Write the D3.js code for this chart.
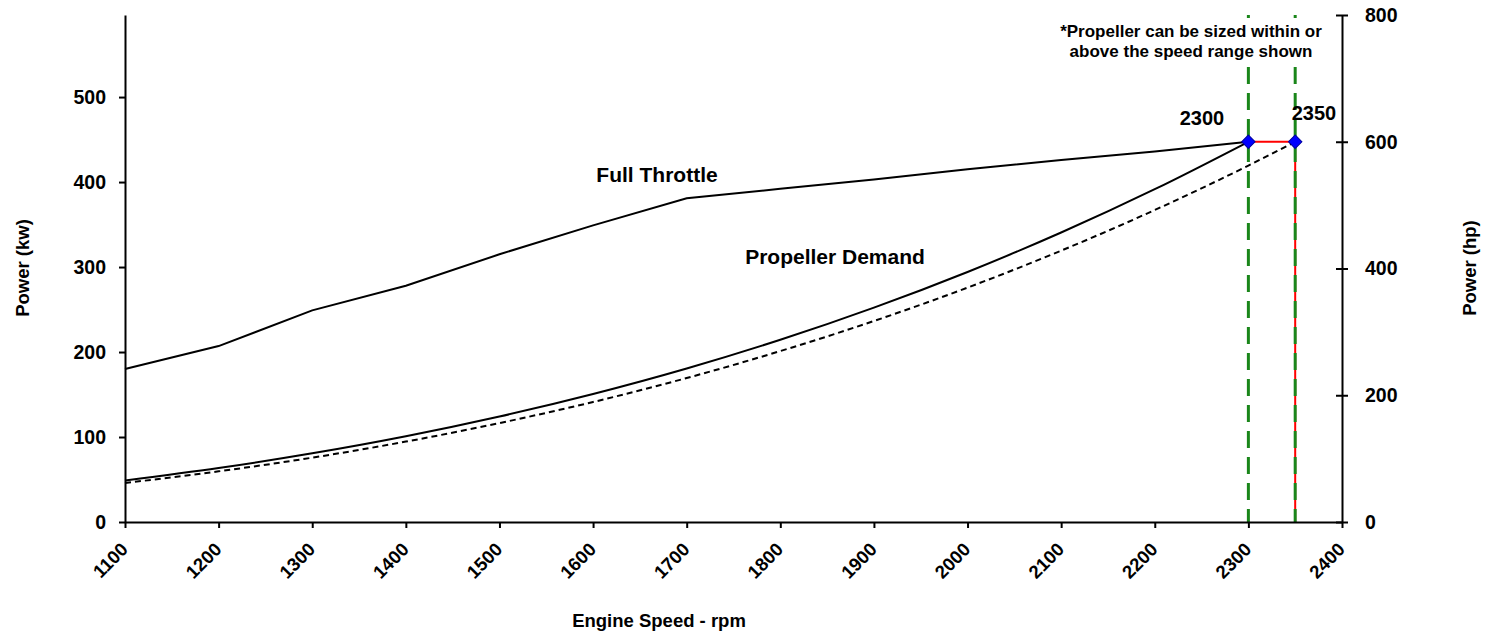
<!DOCTYPE html>
<html><head><meta charset="utf-8">
<script src="https://cdn.jsdelivr.net/npm/d3@7"></script>
<style>body{margin:0;background:#fff}text{font-family:"Liberation Sans",Arial,sans-serif;font-weight:bold}</style>
</head><body><svg id="c" width="1487" height="634"></svg>
<script>
const rpm = [1100,1200,1300,1400,1500,1600,1700,1800,1900,2000,2100,2200,2300];
const fullThrottle = [180,207,249,278,315,349,381,392,403,415,426,436,447.4];
const propDemand = [48.9,63.5,80.8,100.9,124.1,150.6,180.6,214.4,252.2,294.2,340.6,391.6,447.4];
const rpmDashed = [1100,1200,1300,1400,1500,1600,1700,1800,1900,2000,2100,2200,2300,2350];
const propDashed = [45.9,59.6,75.7,94.6,116.4,141.2,169.4,201.1,236.5,275.8,319.3,367.1,419.4,447.4];
const markerRpm = [2300,2350];
const markerKw = [447.4,447.4];
const xTicks = [1100,1200,1300,1400,1500,1600,1700,1800,1900,2000,2100,2200,2300,2400];
const kwTicks = [0,100,200,300,400,500];
const hpTicks = [0,200,400,600,800];

const svg = d3.select("#c");
const L=125,R=1342,T=15,B=522;
const x = d3.scaleLinear().domain([1100,2400]).range([L,R]);
const yk = d3.scaleLinear().domain([0,800*0.74570]).range([B,T]);
const yh = d3.scaleLinear().domain([0,800]).range([B,T]);

// red lines
svg.append("path").attr("d",d3.line()([[x(markerRpm[0]),yk(markerKw[0])],[x(markerRpm[1]),yk(markerKw[1])],[x(markerRpm[1]),yk(0)]]))
  .attr("fill","none").attr("stroke","#ff0000").attr("stroke-width",2);
// green dashed
markerRpm.forEach(v=>{
  svg.append("line").attr("x1",x(v)).attr("x2",x(v)).attr("y1",T).attr("y2",B)
   .attr("stroke","#1a861a").attr("stroke-width",3).attr("stroke-dasharray","17,9");
});
// curves
const line = (xs,ys,c)=>d3.line().x((d,i)=>x(xs[i])).y(d=>yk(d)).curve(c)(ys);
svg.append("path").attr("d",line(rpm,fullThrottle,d3.curveLinear)).attr("fill","none").attr("stroke","#000").attr("stroke-width",2);
svg.append("path").attr("d",line(rpm,propDemand,d3.curveMonotoneX)).attr("fill","none").attr("stroke","#000").attr("stroke-width",2);
svg.append("path").attr("d",line(rpmDashed,propDashed,d3.curveMonotoneX)).attr("fill","none").attr("stroke","#000").attr("stroke-width",2).attr("stroke-dasharray","6,4");
// markers
svg.selectAll(".m").data(markerRpm).enter().append("path")
  .attr("d",d3.symbol().type(d3.symbolSquare).size(90))
  .attr("transform",(d,i)=>`translate(${x(d)},${yk(markerKw[i])}) rotate(45)`)
  .attr("fill","#0000ff").attr("stroke","#0000a0").attr("stroke-width",1);

// axes
const ax = svg.append("g").attr("transform",`translate(0,${B})`)
  .call(d3.axisBottom(x).tickValues(xTicks).tickFormat(d3.format("d")).tickSize(6).tickSizeOuter(0));
ax.selectAll("text").style("font-size","18.5px").attr("text-anchor","end")
  .attr("y",0).attr("dy","0.35em").attr("transform","translate(-1,24) rotate(-45)");
const al = svg.append("g").attr("transform",`translate(${L},0)`)
  .call(d3.axisLeft(yk).tickValues(kwTicks).tickSize(6).tickSizeOuter(0));
al.selectAll("text").style("font-size","19.5px").attr("dx","-10");
const ar = svg.append("g").attr("transform",`translate(${R},0)`)
  .call(d3.axisRight(yh).tickValues(hpTicks).tickSize(6).tickSizeOuter(0));
ar.selectAll(".tick line").attr("x1",-6);
ar.selectAll("text").style("font-size","19.5px").attr("dx","14");
[ax,al,ar].forEach(g=>{g.selectAll("path,line").attr("stroke","#000").attr("stroke-width",2);g.selectAll("text").attr("fill","#000").style("font-family","'Liberation Sans', Arial, sans-serif").style("font-weight","bold");});

// annotation box
svg.append("rect").attr("x",1056).attr("y",18).attr("width",272).attr("height",44).attr("fill","#fff");
svg.append("text").attr("x",1191).attr("y",37).attr("text-anchor","middle").style("font-size","17px").text("*Propeller can be sized within or");
svg.append("text").attr("x",1191).attr("y",56.5).attr("text-anchor","middle").style("font-size","17px").text("above the speed range shown");
svg.append("text").attr("x",1202).attr("y",125).attr("text-anchor","middle").style("font-size","20px").text("2300");
svg.append("text").attr("x",1314).attr("y",120).attr("text-anchor","middle").style("font-size","20px").text("2350");
svg.append("text").attr("x",657).attr("y",182).attr("text-anchor","middle").style("font-size","21px").text("Full Throttle");
svg.append("text").attr("x",835).attr("y",264).attr("text-anchor","middle").style("font-size","21px").text("Propeller Demand");
svg.append("text").attr("x",659).attr("y",627).attr("text-anchor","middle").style("font-size","18.5px").text("Engine Speed - rpm");
svg.append("text").attr("transform","translate(29,268) rotate(-90)").attr("text-anchor","middle").style("font-size","18.5px").text("Power (kw)");
svg.append("text").attr("transform","translate(1476,268) rotate(-90)").attr("text-anchor","middle").style("font-size","18.5px").text("Power (hp)");
</script></body></html>
